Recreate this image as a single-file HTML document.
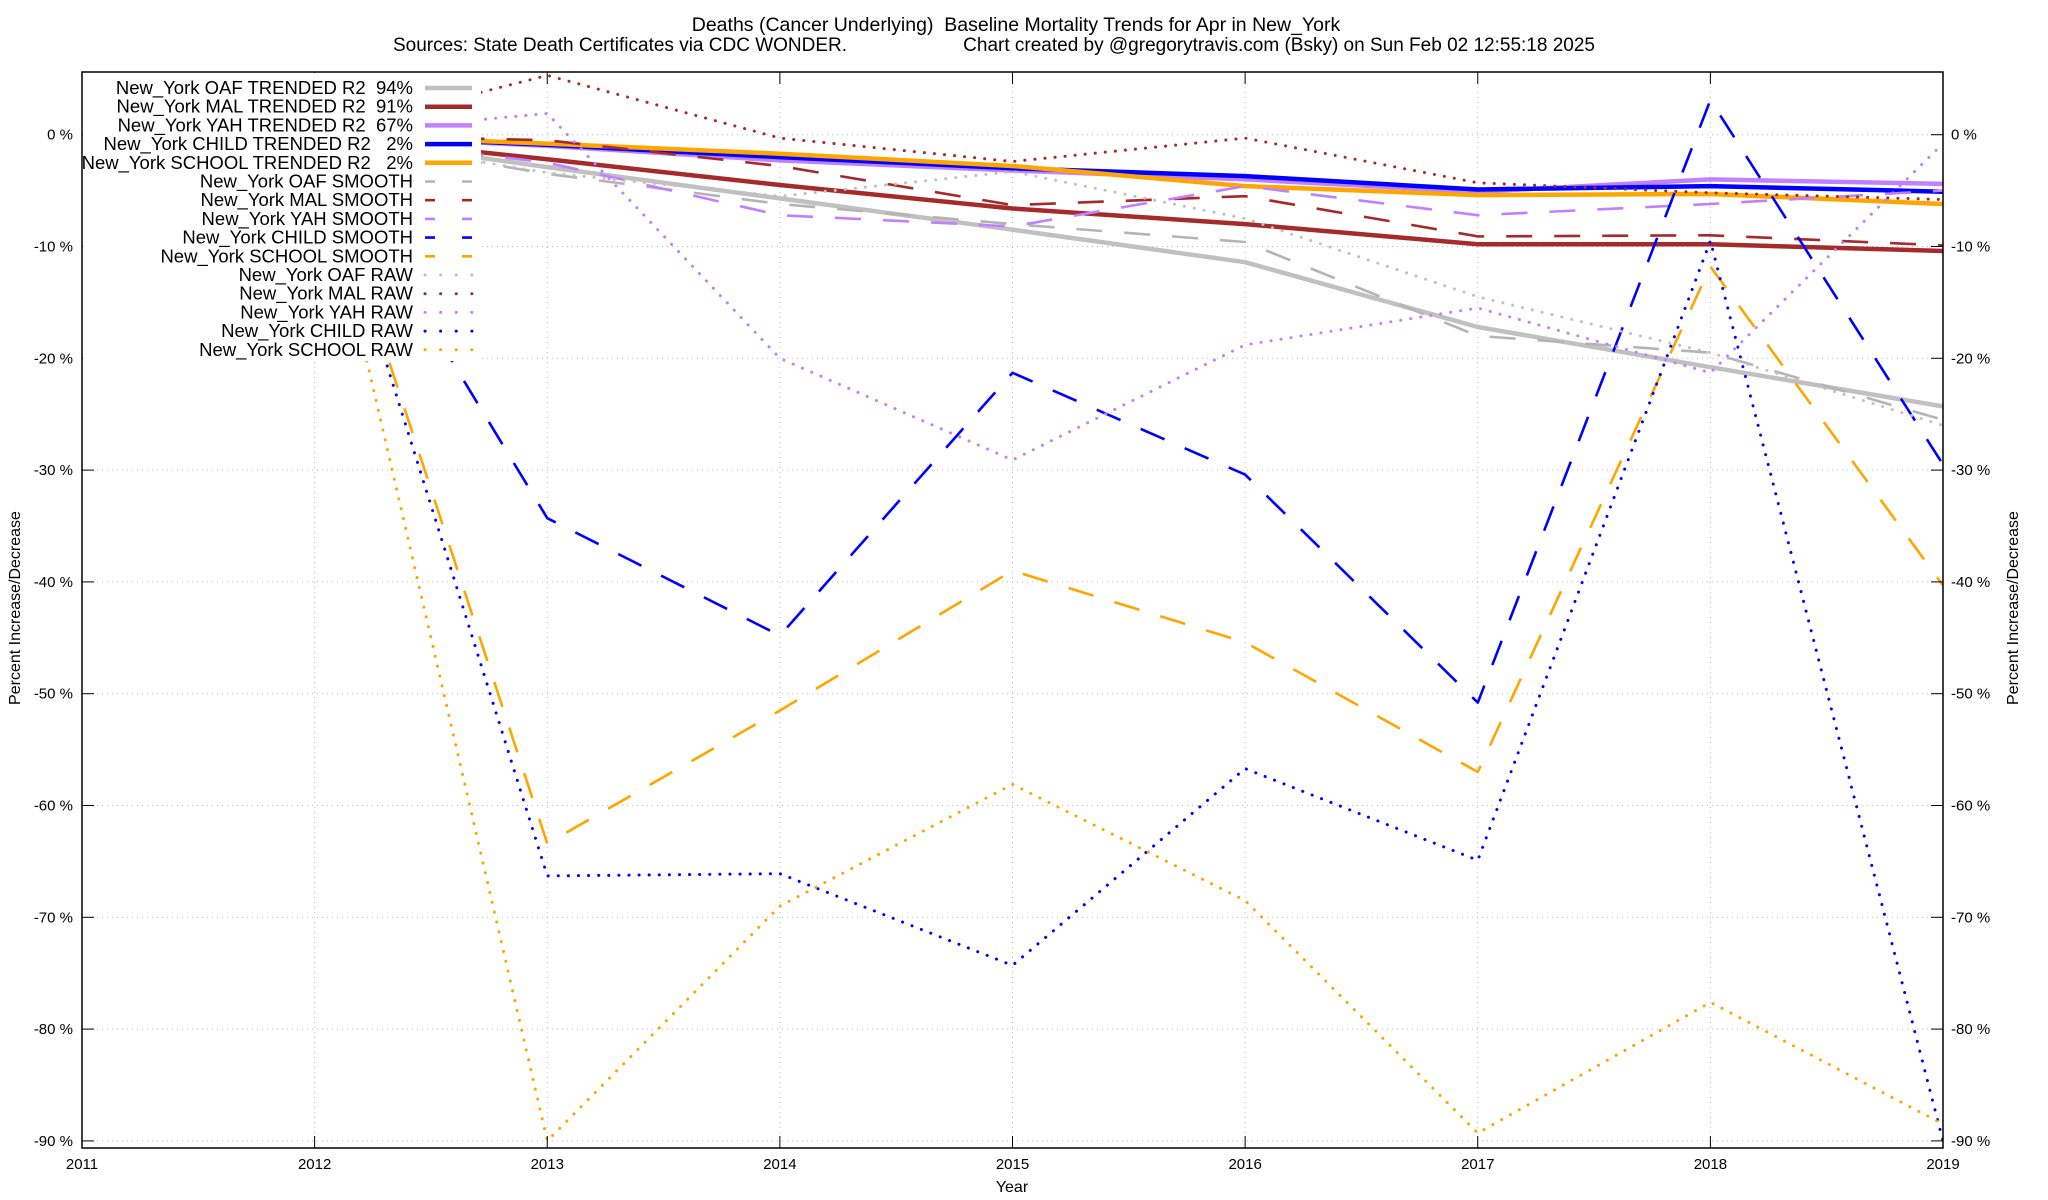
<!DOCTYPE html>
<html><head><meta charset="utf-8">
<style>
html,body{margin:0;padding:0;background:#fff;}
svg{display:block;font-family:"Liberation Sans",sans-serif;}
</style></head>
<body>
<svg id="chart" width="2048" height="1200" viewBox="0 0 2048 1200" xmlns="http://www.w3.org/2000/svg">
<rect x="0" y="0" width="2048" height="1200" fill="#fff"/>
<text x="1016" y="31" text-anchor="middle" font-size="19.5" xml:space="preserve">Deaths (Cancer Underlying)  Baseline Mortality Trends for Apr in New_York</text>
<text x="393" y="51" font-size="19" xml:space="preserve">Sources: State Death Certificates via CDC WONDER.                      Chart created by @gregorytravis.com (Bsky) on Sun Feb 02 12:55:18 2025</text>
<text x="1012" y="1192" text-anchor="middle" font-size="16">Year</text>
<text transform="translate(20,608) rotate(-90)" text-anchor="middle" font-size="16">Percent Increase/Decrease</text>
<text transform="translate(2018,608) rotate(-90)" text-anchor="middle" font-size="16">Percent Increase/Decrease</text>
<g id="grid"></g>
<g id="series"></g>
<g id="frame"></g>
<g id="legend"></g>
</svg>
<script>
const years = [2012, 2013, 2014, 2015, 2016, 2017, 2018, 2019];
const xTicks = [2011, 2012, 2013, 2014, 2015, 2016, 2017, 2018, 2019];
const yTicks = [0, -10, -20, -30, -40, -50, -60, -70, -80, -90];
const oafTrend = [0, -2.9, -5.7, -8.5, -11.4, -17.2, -20.8, -24.3];
const malTrend = [0, -2.2, -4.5, -6.6, -8.0, -9.8, -9.8, -10.4];
const yahTrend = [0, -1.0, -2.3, -3.2, -4.0, -5.1, -4.0, -4.4];
const childTrend = [0, -0.9, -2.0, -3.0, -3.7, -4.9, -4.6, -5.1];
const schoolTrend = [0, -0.8, -1.7, -2.8, -4.6, -5.4, -5.3, -6.2];
const oafSmooth = [0, -3.5, -6.2, -8.0, -9.6, -18.0, -19.5, -25.5];
const malSmooth = [0, -0.5, -2.8, -6.3, -5.5, -9.1, -9.0, -9.9];
const yahSmooth = [0, -2.5, -7.2, -8.2, -4.6, -7.2, -6.2, -5.0];
const childSmooth = [0, -34.3, -44.8, -21.3, -30.4, -50.8, 3.1, -29.5];
const schoolSmooth = [0, -63.4, -51.5, -39.0, -45.4, -57.0, -11.8, -40.3];
const oafRaw = [0, -3.4, -5.5, -3.3, -7.5, -14.5, -19.5, -26.0];
const malRaw = [0, 5.3, -0.3, -2.4, -0.3, -4.3, -5.2, -5.8];
const yahRaw = [0, 1.9, -20.0, -29.1, -18.8, -15.5, -21.3, -0.8];
const childRaw = [0, -66.3, -66.1, -74.3, -56.7, -64.9, -9.5, -90.0];
const schoolRaw = [0, -90.0, -69.0, -58.1, -68.5, -89.3, -77.6, -88.5];

const L = 82, R = 1943, T = 72, B = 1148;
const Y0 = 134.7, PPU = 11.18;
function xs(v){ return L + (v - 2011) / 8 * (R - L); }
function ys(v){ return Y0 - v * PPU; }
const NS = "http://www.w3.org/2000/svg";
function mk(tag, attrs, parent){ const e = document.createElementNS(NS, tag); for (const k in attrs) e.setAttribute(k, attrs[k]); parent.appendChild(e); return e; }
const svg = document.getElementById('chart');
const grid = document.getElementById('grid');
const frame = document.getElementById('frame');
const seriesG = document.getElementById('series');
const legendG = document.getElementById('legend');

const defs = mk('defs', {}, svg);
const cp = mk('clipPath', {id:'plotclip'}, defs);
mk('rect', {x:L, y:T, width:R-L, height:B-T}, cp);
seriesG.setAttribute('clip-path', 'url(#plotclip)');

xTicks.forEach(t => {
  const x = xs(t);
  if (t > 2011 && t < 2019) {
    const g = mk('line', {x1:x, y1:T, x2:x, y2:B, stroke:'#bbb', 'stroke-width':1, 'stroke-dasharray':'1 4'}, grid);
    
    
  }
  mk('line', {x1:x, y1:B, x2:x, y2:B-12, stroke:'#000', 'stroke-width':1}, frame);
  mk('line', {x1:x, y1:T, x2:x, y2:T+12, stroke:'#000', 'stroke-width':1}, frame);
  const tx = mk('text', {x:x, y:1169, 'text-anchor':'middle', 'font-size':15}, frame);
  tx.textContent = t;
  
  
});
yTicks.forEach(t => {
  const y = ys(t);
  const g = mk('line', {x1:L, y1:y, x2:R, y2:y, stroke:'#bbb', 'stroke-width':1, 'stroke-dasharray':'1 4'}, grid);
  
  
  mk('line', {x1:L, y1:y, x2:L+12, y2:y, stroke:'#000', 'stroke-width':1}, frame);
  mk('line', {x1:R, y1:y, x2:R-12, y2:y, stroke:'#000', 'stroke-width':1}, frame);
  const a = mk('text', {x:73, y:y+5, 'text-anchor':'end', 'font-size':15}, frame);
  a.textContent = t + ' %';
  
  
  const b = mk('text', {x:R+8, y:y+5, 'text-anchor':'start', 'font-size':15}, frame);
  b.textContent = t + ' %';
  
  
});
const fr = mk('rect', {x:L, y:T, width:R-L, height:B-T, fill:'none', stroke:'#000', 'stroke-width':1.5}, frame);



const C = {oaf:'#c0c0c0', mal:'#a52a2a', yah:'#c080ff', child:'#0000ff', school:'#ffa500'};
const styles = {
  trend:{w:4.5, dash:null, cap:'butt'},
  smooth:{w:2.6, dash:'26 22', cap:'butt'},
  raw:{w:3, dash:'0.1 10', cap:'round'}
};
const series = [
  ['New_York OAF TRENDED R2  94%', oafTrend, C.oaf, 'trend', 'oaf-trended-line'],
  ['New_York MAL TRENDED R2  91%', malTrend, C.mal, 'trend', 'mal-trended-line'],
  ['New_York YAH TRENDED R2  67%', yahTrend, C.yah, 'trend', 'yah-trended-line'],
  ['New_York CHILD TRENDED R2   2%', childTrend, C.child, 'trend', 'child-trended-line'],
  ['New_York SCHOOL TRENDED R2   2%', schoolTrend, C.school, 'trend', 'school-trended-line'],
  ['New_York OAF SMOOTH', oafSmooth, '#b4b4b4', 'smooth', 'oaf-smooth-line'],
  ['New_York MAL SMOOTH', malSmooth, C.mal, 'smooth', 'mal-smooth-line'],
  ['New_York YAH SMOOTH', yahSmooth, C.yah, 'smooth', 'yah-smooth-line'],
  ['New_York CHILD SMOOTH', childSmooth, C.child, 'smooth', 'child-smooth-line'],
  ['New_York SCHOOL SMOOTH', schoolSmooth, C.school, 'smooth', 'school-smooth-line'],
  ['New_York OAF RAW', oafRaw, C.oaf, 'raw', 'oaf-raw-line'],
  ['New_York MAL RAW', malRaw, C.mal, 'raw', 'mal-raw-line'],
  ['New_York YAH RAW', yahRaw, C.yah, 'raw', 'yah-raw-line'],
  ['New_York CHILD RAW', childRaw, C.child, 'raw', 'child-raw-line'],
  ['New_York SCHOOL RAW', schoolRaw, C.school, 'raw', 'school-raw-line']
];
series.forEach(s => {
  const st = styles[s[3]];
  const pts = s[1].map((v, i) => xs(years[i]).toFixed(1) + ',' + ys(v).toFixed(1)).join(' ');
  const p = mk('polyline', {points:pts, fill:'none', stroke:s[2], 'stroke-width':st.w, 'stroke-linecap':st.cap, 'stroke-linejoin':'round'}, seriesG);
  if (st.dash) p.setAttribute('stroke-dasharray', st.dash);
  
  
});

const lb = mk('rect', {x:L+1, y:T+1, width:398, height:288, fill:'#fff'}, legendG);


series.forEach((s, i) => {
  const st = styles[s[3]];
  const y = 88 + i * 18.7;
  const t = mk('text', {x:413, y:y+6, 'text-anchor':'end', 'font-size':18.5}, legendG);
  t.setAttribute('xml:space', 'preserve');
  t.style.whiteSpace = 'pre';
  t.textContent = s[0];
  
  
  const l = mk('line', {x1:425, y1:y, x2:472, y2:y, stroke:s[2], 'stroke-width':st.w, 'stroke-linecap':st.cap}, legendG);
  if (s[3] === 'smooth') l.setAttribute('stroke-dasharray', '10 27');
  if (s[3] === 'raw') l.setAttribute('stroke-dasharray', '0.1 15.5');
  
  
});
</script>
</body></html>
